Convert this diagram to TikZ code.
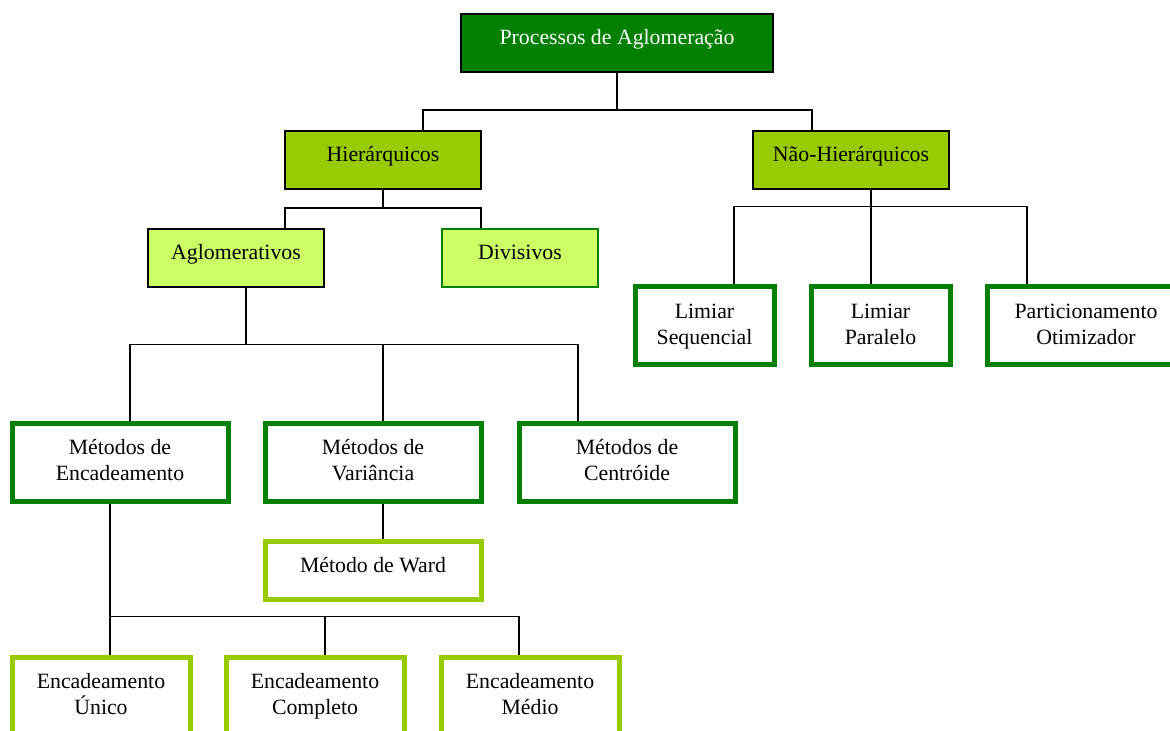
\documentclass[tikz,border=0pt]{standalone}
\usepackage{fontspec}
\setmainfont{Liberation Serif}
\usepackage{xcolor}
\usetikzlibrary{calc}
\definecolor{dkgrn}{HTML}{008000}
\definecolor{lime}{HTML}{99CC00}
\definecolor{pale}{HTML}{CCFF66}
\tikzset{
  bx/.style={rectangle, align=center, inner sep=0pt, font=\fontsize{10.9}{13}\selectfont, oneln},
  oneln/.style={text height=5pt, text depth=3pt},
  twoln/.style={text height=20.5pt, text depth=2pt},
  sz/.style 2 args={minimum width=#1, minimum height=#2},
  topbx/.style={bx, draw=black, line width=1pt, fill=dkgrn, text=white},
  hbx/.style={bx, draw=black, line width=1pt, fill=lime},
  abx/.style={bx, draw=black, line width=1pt, fill=pale},
  dbx/.style={bx, draw=dkgrn, line width=1.2pt, fill=pale},
  gbx/.style={bx, twoln, draw=dkgrn, line width=2.5pt, fill=white},
  lbx/.style={bx, draw=lime, line width=2.5pt, fill=white},
  conn/.style={line width=0.9pt, black},
}

\begin{document}
\begin{tikzpicture}[x=0.5pt, y=-0.5pt]
  \useasboundingbox (0,0) rectangle (1170,731);
  \clip (0,0) rectangle (1170,731);
  % --- top levels ---
  \node[topbx, sz={156pt}{29pt}] (proc) at (617,43) {Processos de Aglomeração};
  \node[hbx, sz={98pt}{29pt}] (hier) at (383,160) {Hierárquicos};
  \node[hbx, sz={98pt}{29pt}] (naohier) at (851,160) {Não-Hierárquicos};
  \node[abx, sz={88pt}{29pt}] (aglom) at (236,258) {Aglomerativos};
  \node[dbx, sz={78pt}{29pt}] (divis) at (520,258) {Divisivos};
  % --- non-hierarchical ---
  \node[gbx, sz={69.5pt}{39pt}] (limseq) at (704.5,326) {Limiar\\Sequencial};
  \node[gbx, sz={69.5pt}{39pt}] (limpar) at (880.5,326) {Limiar\\Paralelo};
  \node[gbx, sz={99pt}{39pt}] (part) at (1086,326) {Particionamento\\Otimizador};
  % --- agglomerative methods ---
  \node[gbx, sz={108pt}{39pt}] (enc) at (120,462) {Métodos de\\Encadeamento};
  \node[gbx, sz={108pt}{39pt}] (var) at (373,462) {Métodos de\\Variância};
  \node[gbx, sz={108pt}{39pt}] (cent) at (627,462) {Métodos de\\Centróide};
  \node[lbx, sz={108pt}{29pt}] (ward) at (373,570) {Método de Ward};
  \node[lbx, twoln, sz={89pt}{39pt}] (unico) at (101,696) {Encadeamento\\Único};
  \node[lbx, twoln, sz={89pt}{39pt}] (compl) at (315,696) {Encadeamento\\Completo};
  \node[lbx, twoln, sz={89pt}{39pt}] (medio) at (530,696) {Encadeamento\\Médio};
  % --- connectors ---
  \draw[conn] (proc.south) |- ($(hier.north)+(40,-20)$) -- ($(hier.north)+(40,0)$);
  \draw[conn] (proc.south) |- ($(naohier.north)+(-39,-20)$) -- ($(naohier.north)+(-39,0)$);
  \draw[conn] (hier.south) |- ($(aglom.north)+(49,-20)$) -- ($(aglom.north)+(49,0)$);
  \draw[conn] (hier.south) |- ($(divis.north)+(-39,-20)$) -- ($(divis.north)+(-39,0)$);
  \draw[conn] ($(naohier.south)+(20,0)$) |- ($(limseq.north)+(29.5,-78)$) -- ($(limseq.north)+(29.5,0)$);
  \draw[conn] ($(naohier.south)+(20,0)$) -- ($(limpar.north)+(-9.5,0)$);
  \draw[conn] ($(naohier.south)+(20,0)$) |- ($(part.north)+(-59,-78)$) -- ($(part.north)+(-59,0)$);
  \draw[conn] ($(aglom.south)+(10,0)$) |- ($(enc.north)+(10,-76)$) -- ($(enc.north)+(10,0)$);
  \draw[conn] ($(aglom.south)+(10,0)$) |- ($(var.north)+(10,-76)$) -- ($(var.north)+(10,0)$);
  \draw[conn] ($(aglom.south)+(10,0)$) |- ($(cent.north)+(-49,-76)$) -- ($(cent.north)+(-49,0)$);
  \draw[conn] ($(var.south)+(10,0)$) -- ($(ward.north)+(10,0)$);
  \draw[conn] ($(enc.south)+(-10,0)$) |- ($(unico.north)+(9,-38)$) -- ($(unico.north)+(9,0)$);
  \draw[conn] ($(enc.south)+(-10,0)$) |- ($(compl.north)+(10,-38)$) -- ($(compl.north)+(10,0)$);
  \draw[conn] ($(enc.south)+(-10,0)$) |- ($(medio.north)+(-11,-38)$) -- ($(medio.north)+(-11,0)$);
\end{tikzpicture}
\end{document}
